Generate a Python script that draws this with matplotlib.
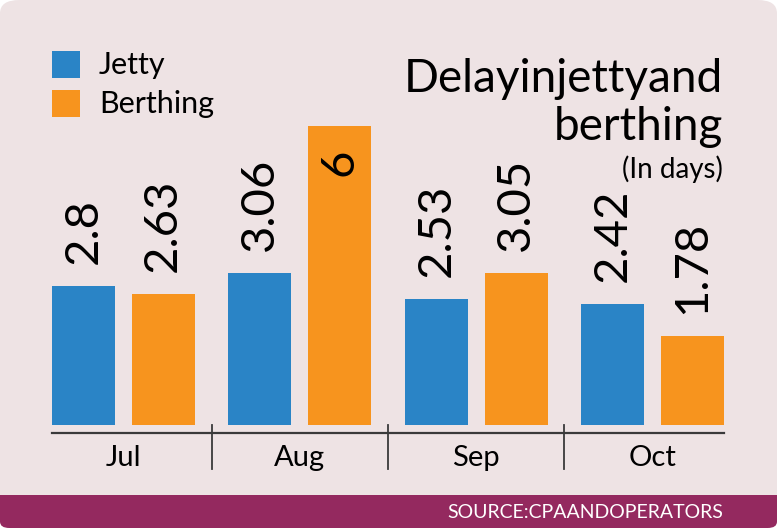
import numpy as np
import matplotlib.pyplot as plt
from matplotlib.patches import FancyBboxPatch, Rectangle

# data
months = ['Jul', 'Aug', 'Sep', 'Oct']
jetty = [2.8, 3.06, 2.53, 2.42]
berthing = [2.63, 6, 3.05, 1.78]
jetty_labels = ['2.8', '3.06', '2.53', '2.42']
berthing_labels = ['2.63', '6', '3.05', '1.78']

BLUE = '#2A84C6'
ORANGE = '#F7941E'
BG = '#EEE3E4'
PURPLE = '#94295F'

plt.rcParams['font.family'] = ['Lato', 'DejaVu Sans']

W, H = 777, 532
fig = plt.figure(figsize=(W / 100, H / 100), dpi=100)
fig.patch.set_facecolor('white')

def fx(px):
    return px / W

def fy(py):
    return 1 - py / H

# background card with rounded corners
fig.patches.append(FancyBboxPatch((fx(0), fy(528)), fx(777), 528 / H,
                                  boxstyle='round,pad=0,rounding_size=0.025',
                                  transform=fig.transFigure, facecolor=BG,
                                  edgecolor='none', zorder=-3))
# purple source band
fig.patches.append(FancyBboxPatch((fx(0), fy(528)), fx(777), 33 / H,
                                  boxstyle='round,pad=0,rounding_size=0.012',
                                  transform=fig.transFigure, facecolor=PURPLE,
                                  edgecolor='none', zorder=-2))
fig.patches.append(Rectangle((fx(0), fy(510)), fx(777), 15 / H,
                             transform=fig.transFigure, facecolor=PURPLE,
                             edgecolor='none', zorder=-2))

# axes positioned in pixels: baseline at y=433, bars from x=52 to 724
unit = 49.8  # px per day
y_base = -8 / unit
ax = fig.add_axes([fx(52), fy(433), fx(724 - 52), (433 - 30) / H])
ax.set_facecolor('none')
margin = 17 / 177
ax.set_xlim(-0.5 + margin, 3.5 - margin)
ax.set_ylim(y_base, (425 - 30) / unit)
ax.axis('off')

x = np.arange(len(months))
bw = 63 / 177
off = (63 + 17) / 2 / 177
ax.bar(x - off, jetty, bw, color=BLUE, zorder=2)
ax.bar(x + off, berthing, bw, color=ORANGE, zorder=2)

# value labels (the tallest bar gets its label inside)
for i in range(len(months)):
    ax.text(x[i] - off, jetty[i] + 22 / unit, jetty_labels[i], rotation=90,
            ha='center', va='bottom', fontsize=34, color='black')
    if berthing[i] > 5:
        ax.text(x[i] + off, berthing[i] - 22 / unit, berthing_labels[i], rotation=90,
                ha='center', va='top', fontsize=34, color='black')
    else:
        ax.text(x[i] + off, berthing[i] + 22 / unit, berthing_labels[i], rotation=90,
                ha='center', va='bottom', fontsize=34, color='black')

# baseline and separators
ax.axhline(y_base, color='#3a3a3a', lw=1.6, clip_on=False)
for s in [0.5, 1.5, 2.5]:
    ax.plot([s, s], [0, y_base - 36 / unit], color='#3a3a3a', lw=1.3, clip_on=False)
for i, m in enumerate(months):
    ax.text(x[i], y_base - 25 / unit, m, ha='center', va='center', fontsize=21,
            color='black')

# legend
for yy, col, lab in [(51, BLUE, 'Jetty'), (90, ORANGE, 'Berthing')]:
    fig.patches.append(Rectangle((fx(52), fy(yy + 27)), fx(28), 27 / H,
                                 transform=fig.transFigure, facecolor=col,
                                 edgecolor='none', zorder=3))
    fig.text(fx(99), fy(yy + 14), lab, ha='left', va='center', fontsize=22,
             color='black')

# title
fig.text(fx(723), fy(92), 'Delayinjettyand', ha='right', va='baseline',
         fontsize=33, color='black')
fig.text(fx(723), fy(140), 'berthing', ha='right', va='baseline',
         fontsize=33, color='black')
fig.text(fx(723), fy(178), '(In days)', ha='right', va='baseline',
         fontsize=20, color='black')

# source
fig.text(fx(723), fy(512), 'SOURCE:CPAANDOPERATORS', ha='right', va='center',
         fontsize=14, color='white')

fig.savefig('out.png', dpi=100, facecolor=fig.get_facecolor())
